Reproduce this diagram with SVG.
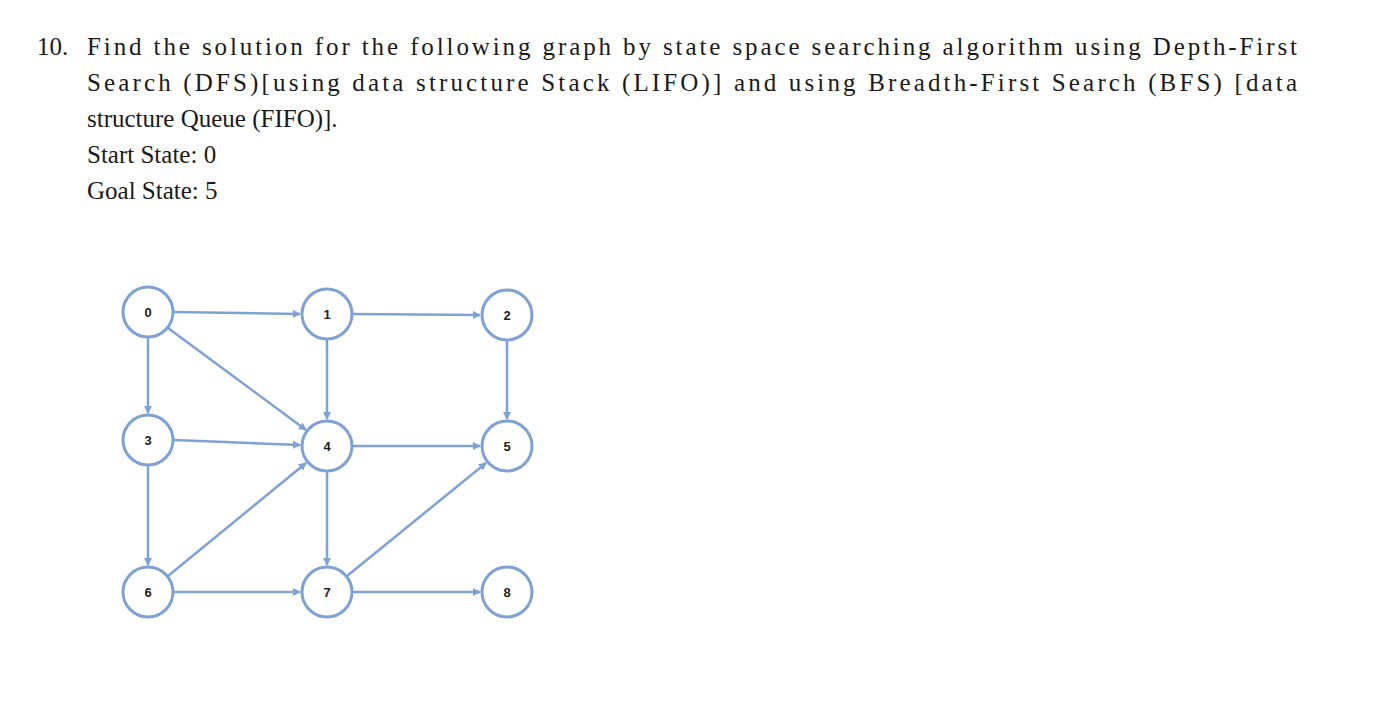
<svg xmlns="http://www.w3.org/2000/svg" width="1392" height="720" viewBox="0 0 1392 720">
<style>
.t{font-family:"Liberation Serif","Times New Roman",serif;font-size:25px;fill:#1a1a1a}
.n circle{fill:#fff;stroke:#7fa2d4;stroke-width:3}
.n text{font-family:"Liberation Sans",Arial,sans-serif;font-weight:bold;font-size:13px;fill:#222;text-anchor:middle}
.e line{stroke:#7fa2d4;stroke-width:2.5;marker-end:url(#a)}
</style>
<defs><marker id="a" markerWidth="8" markerHeight="8" refX="7" refY="4" orient="auto" markerUnits="userSpaceOnUse"><path d="M0,0 L8,4 L0,8 z" fill="#7fa2d4"/></marker></defs>
<rect width="1392" height="720" fill="#fff"/>
<text class="t" x="37" y="55">10.</text>
<text class="t" x="87" y="55" textLength="1210" lengthAdjust="spacing">Find the solution for the following graph by state space searching algorithm using Depth-First</text>
<text class="t" x="87" y="91" textLength="1210" lengthAdjust="spacing">Search (DFS)[using data structure Stack (LIFO)] and using Breadth-First Search (BFS) [data</text>
<text class="t" x="87" y="127">structure Queue (FIFO)].</text>
<text class="t" x="87" y="163">Start State: 0</text>
<text class="t" x="87" y="199">Goal State: 5</text>
<g class="e" id="edges">
<line x1="174" y1="312" x2="300" y2="314"/>
<line x1="353" y1="314" x2="480" y2="315"/>
<line x1="148" y1="338" x2="148" y2="413"/>
<line x1="168" y1="328" x2="306" y2="430"/>
<line x1="327" y1="340" x2="327" y2="419"/>
<line x1="507" y1="341" x2="507" y2="419"/>
<line x1="174" y1="440" x2="300" y2="445"/>
<line x1="353" y1="446" x2="480" y2="446"/>
<line x1="148" y1="466" x2="148" y2="565"/>
<line x1="168" y1="576" x2="306" y2="463"/>
<line x1="327" y1="472" x2="327" y2="565"/>
<line x1="347" y1="576" x2="486" y2="463"/>
<line x1="174" y1="592" x2="300" y2="592"/>
<line x1="353" y1="592" x2="480" y2="592"/>
</g>
<g class="n" id="n0"><circle cx="148" cy="312" r="25"/><text x="148" y="317">0</text></g>
<g class="n" id="n1"><circle cx="327" cy="314" r="25"/><text x="327" y="319">1</text></g>
<g class="n" id="n2"><circle cx="507" cy="315" r="25"/><text x="507" y="320">2</text></g>
<g class="n" id="n3"><circle cx="148" cy="440" r="25"/><text x="148" y="445">3</text></g>
<g class="n" id="n4"><circle cx="327" cy="446" r="25"/><text x="327" y="451">4</text></g>
<g class="n" id="n5"><circle cx="507" cy="446" r="25"/><text x="507" y="451">5</text></g>
<g class="n" id="n6"><circle cx="148" cy="592" r="25"/><text x="148" y="597">6</text></g>
<g class="n" id="n7"><circle cx="327" cy="592" r="25"/><text x="327" y="597">7</text></g>
<g class="n" id="n8"><circle cx="507" cy="592" r="25"/><text x="507" y="597">8</text></g>
</svg>
